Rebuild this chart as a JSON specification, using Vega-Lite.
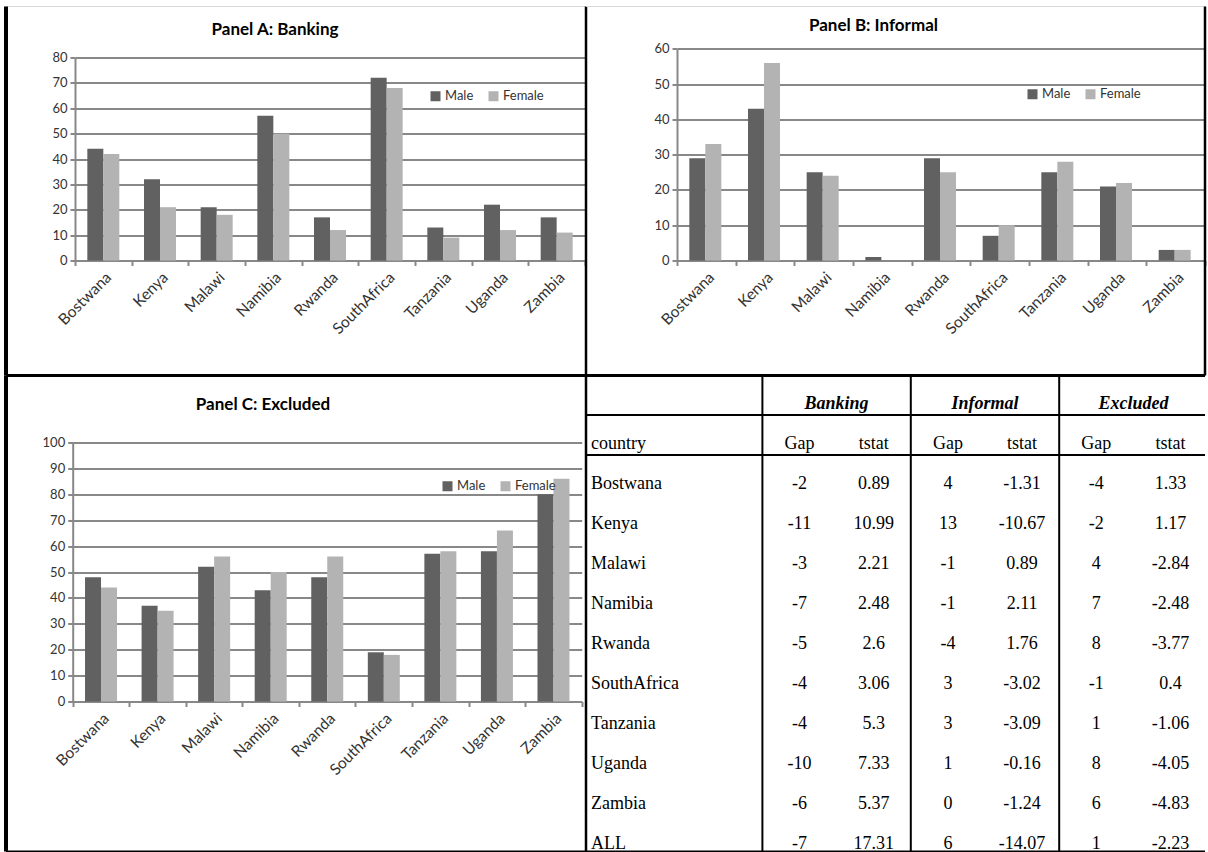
{
  "$schema": "https://vega.github.io/schema/vega-lite/v6.json",
  "autosize": {"type": "pad"},
  "padding": {"left": 4, "top": 4.5, "right": 0, "bottom": 0},
  "background": "white",
  "spacing": 0,
  "bounds": "flush",
  "columns": 2,
  "resolve": {"scale": {"color": "independent"}, "legend": {"color": "independent"}},
  "datasets": {
    "banking": [
      {"country": "Bostwana", "Male": 44, "Female": 42},
      {"country": "Kenya", "Male": 32, "Female": 21},
      {"country": "Malawi", "Male": 21, "Female": 18},
      {"country": "Namibia", "Male": 57, "Female": 50},
      {"country": "Rwanda", "Male": 17, "Female": 12},
      {"country": "SouthAfrica", "Male": 72, "Female": 68},
      {"country": "Tanzania", "Male": 13, "Female": 9},
      {"country": "Uganda", "Male": 22, "Female": 12},
      {"country": "Zambia", "Male": 17, "Female": 11}
    ],
    "informal": [
      {"country": "Bostwana", "Male": 29, "Female": 33},
      {"country": "Kenya", "Male": 43, "Female": 56},
      {"country": "Malawi", "Male": 25, "Female": 24},
      {"country": "Namibia", "Male": 1, "Female": 0},
      {"country": "Rwanda", "Male": 29, "Female": 25},
      {"country": "SouthAfrica", "Male": 7, "Female": 10},
      {"country": "Tanzania", "Male": 25, "Female": 28},
      {"country": "Uganda", "Male": 21, "Female": 22},
      {"country": "Zambia", "Male": 3, "Female": 3}
    ],
    "excluded": [
      {"country": "Bostwana", "Male": 48, "Female": 44},
      {"country": "Kenya", "Male": 37, "Female": 35},
      {"country": "Malawi", "Male": 52, "Female": 56},
      {"country": "Namibia", "Male": 43, "Female": 50},
      {"country": "Rwanda", "Male": 48, "Female": 56},
      {"country": "SouthAfrica", "Male": 19, "Female": 18},
      {"country": "Tanzania", "Male": 57, "Female": 58},
      {"country": "Uganda", "Male": 58, "Female": 66},
      {"country": "Zambia", "Male": 80, "Female": 86}
    ],
    "table": [
      {"country": "country", "bg": "Gap", "bt": "tstat", "ig": "Gap", "it": "tstat", "eg": "Gap", "et": "tstat"},
      {"country": "Bostwana", "bg": "-2", "bt": "0.89", "ig": "4", "it": "-1.31", "eg": "-4", "et": "1.33"},
      {"country": "Kenya", "bg": "-11", "bt": "10.99", "ig": "13", "it": "-10.67", "eg": "-2", "et": "1.17"},
      {"country": "Malawi", "bg": "-3", "bt": "2.21", "ig": "-1", "it": "0.89", "eg": "4", "et": "-2.84"},
      {"country": "Namibia", "bg": "-7", "bt": "2.48", "ig": "-1", "it": "2.11", "eg": "7", "et": "-2.48"},
      {"country": "Rwanda", "bg": "-5", "bt": "2.6", "ig": "-4", "it": "1.76", "eg": "8", "et": "-3.77"},
      {"country": "SouthAfrica", "bg": "-4", "bt": "3.06", "ig": "3", "it": "-3.02", "eg": "-1", "et": "0.4"},
      {"country": "Tanzania", "bg": "-4", "bt": "5.3", "ig": "3", "it": "-3.09", "eg": "1", "et": "-1.06"},
      {"country": "Uganda", "bg": "-10", "bt": "7.33", "ig": "1", "it": "-0.16", "eg": "8", "et": "-4.05"},
      {"country": "Zambia", "bg": "-6", "bt": "5.37", "ig": "0", "it": "-1.24", "eg": "6", "et": "-4.83"},
      {"country": "ALL", "bg": "-7", "bt": "17.31", "ig": "6", "it": "-14.07", "eg": "1", "et": "-2.23"}
    ]
  },
  "concat": [
    {
      "width": 580, "height": 369,
      "title": {"text": "Panel A: Banking", "frame": "group", "anchor": "middle", "offset": -42, "baseline": "middle", "dx": -21},
      "layer": [
        {
          "data": {"name": "banking"},
          "transform": [{"fold": ["Male", "Female"], "as": ["sex", "pct"]}],
          "mark": {"type": "bar"},
          "encoding": {
            "x": {"field": "country", "type": "nominal", "sort": null,
              "scale": {"range": [69, 579], "paddingInner": 0, "paddingOuter": 0},
              "axis": {"orient": "bottom", "offset": -115, "title": null, "labelAngle": -45, "tickBand": "extent", "grid": false}},
            "xOffset": {"field": "sex", "type": "nominal", "sort": ["Male", "Female"], "scale": {"paddingInner": 0, "paddingOuter": 0.771}},
            "y": {"field": "pct", "type": "quantitative",
              "scale": {"domain": [0, 80], "range": [254, 51], "nice": false},
              "axis": {"orient": "left", "offset": -69, "title": null, "values": [0, 10, 20, 30, 40, 50, 60, 70, 80], "grid": true}},
            "color": {"field": "sex", "type": "nominal",
              "scale": {"domain": ["Male", "Female"], "range": ["#616161", "#b3b3b3"]},
              "legend": {"orient": "none", "legendX": 423, "legendY": 83, "direction": "horizontal", "title": null}}
          }
        },
        {"data": {"values": [{}]}, "mark": {"type": "rule", "color": "#d9d9d9", "strokeWidth": 1},
         "encoding": {"x": {"value": 0}, "x2": {"value": "width"}, "y": {"value": 0}}},
        {"data": {"values": [{}]}, "mark": {"type": "rule", "color": "black", "strokeWidth": 4},
         "encoding": {"x": {"value": 0}, "y": {"value": 0}, "y2": {"value": "height"}}},
        {"data": {"values": [{}]}, "mark": {"type": "rule", "color": "black", "strokeWidth": 2.5},
         "encoding": {"x": {"value": "width"}, "y": {"value": 0}, "y2": {"value": "height"}}},
        {"data": {"values": [{}]}, "mark": {"type": "rule", "color": "black", "strokeWidth": 3},
         "encoding": {"x": {"value": 0}, "x2": {"value": "width"}, "y": {"value": "height"}}}
      ]
    },
    {
      "width": 619, "height": 369,
      "title": {"text": "Panel B: Informal", "frame": "group", "anchor": "middle", "offset": -38, "baseline": "middle", "dx": -22},
      "layer": [
        {
          "data": {"name": "informal"},
          "transform": [{"fold": ["Male", "Female"], "as": ["sex", "pct"]}],
          "mark": {"type": "bar"},
          "encoding": {
            "x": {"field": "country", "type": "nominal", "sort": null,
              "scale": {"range": [91, 619], "paddingInner": 0, "paddingOuter": 0},
              "axis": {"orient": "bottom", "offset": -115, "title": null, "labelAngle": -45, "tickBand": "extent", "grid": false}},
            "xOffset": {"field": "sex", "type": "nominal", "sort": ["Male", "Female"], "scale": {"paddingInner": 0, "paddingOuter": 0.833}},
            "y": {"field": "pct", "type": "quantitative",
              "scale": {"domain": [0, 60], "range": [254, 42.3], "nice": false},
              "axis": {"orient": "left", "offset": -91, "title": null, "values": [0, 10, 20, 30, 40, 50, 60], "grid": true}},
            "color": {"field": "sex", "type": "nominal",
              "scale": {"domain": ["Male", "Female"], "range": ["#616161", "#b3b3b3"]},
              "legend": {"orient": "none", "legendX": 440, "legendY": 81, "direction": "horizontal", "title": null}}
          }
        },
        {"data": {"values": [{}]}, "mark": {"type": "rule", "color": "#d9d9d9", "strokeWidth": 1},
         "encoding": {"x": {"value": 0}, "x2": {"value": "width"}, "y": {"value": 0}}},
        {"data": {"values": [{}]}, "mark": {"type": "rule", "color": "black", "strokeWidth": 2.5},
         "encoding": {"x": {"value": "width"}, "y": {"value": 0}, "y2": {"value": "height"}}},
        {"data": {"values": [{}]}, "mark": {"type": "rule", "color": "black", "strokeWidth": 3},
         "encoding": {"x": {"value": 0}, "x2": {"value": "width"}, "y": {"value": "height"}}}
      ]
    },
    {
      "width": 580, "height": 476,
      "title": {"text": "Panel C: Excluded", "frame": "group", "anchor": "middle", "offset": -48, "baseline": "middle", "dx": -33},
      "layer": [
        {
          "data": {"name": "excluded"},
          "transform": [{"fold": ["Male", "Female"], "as": ["sex", "pct"]}],
          "mark": {"type": "bar"},
          "encoding": {
            "x": {"field": "country", "type": "nominal", "sort": null,
              "scale": {"range": [66.7, 575.7], "paddingInner": 0, "paddingOuter": 0},
              "axis": {"orient": "bottom", "offset": -150, "title": null, "labelAngle": -45, "tickBand": "extent", "grid": false}},
            "xOffset": {"field": "sex", "type": "nominal", "sort": ["Male", "Female"], "scale": {"paddingInner": 0, "paddingOuter": 0.767}},
            "y": {"field": "pct", "type": "quantitative",
              "scale": {"domain": [0, 100], "range": [326, 67], "nice": false},
              "axis": {"orient": "left", "offset": -66.7, "title": null, "values": [0, 10, 20, 30, 40, 50, 60, 70, 80, 90, 100], "grid": true}},
            "color": {"field": "sex", "type": "nominal",
              "scale": {"domain": ["Male", "Female"], "range": ["#616161", "#b3b3b3"]},
              "legend": {"orient": "none", "legendX": 435, "legendY": 104, "direction": "horizontal", "title": null}}
          }
        },
        {"data": {"values": [{}]}, "mark": {"type": "rule", "color": "black", "strokeWidth": 4},
         "encoding": {"x": {"value": 0}, "y": {"value": 0}, "y2": {"value": "height"}}},
        {"data": {"values": [{}]}, "mark": {"type": "rule", "color": "black", "strokeWidth": 2},
         "encoding": {"x": {"value": 0}, "x2": {"value": "width"}, "y": {"value": "height"}}}
      ]
    },
    {
      "width": 619, "height": 476,
      "layer": [
        {
          "data": {"name": "table"},
          "transform": [{"fold": ["bg", "bt", "ig", "it", "eg", "et"], "as": ["col", "val"]}],
          "mark": {"type": "text", "font": "Liberation Serif", "fontSize": 18, "color": "black"},
          "encoding": {
            "x": {"field": "col", "type": "nominal",
              "scale": {"domain": ["bg", "bt", "ig", "it", "eg", "et"], "range": [176.4, 621.6], "paddingInner": 0, "paddingOuter": 0},
              "axis": null},
            "y": {"field": "country", "type": "nominal",
              "scale": {"domain": ["grp", "country", "Bostwana", "Kenya", "Malawi", "Namibia", "Rwanda", "SouthAfrica", "Tanzania", "Uganda", "Zambia", "ALL"], "range": [8, 488], "paddingInner": 0, "paddingOuter": 0},
              "axis": null},
            "text": {"field": "val", "type": "nominal"}
          }
        },
        {
          "data": {"name": "table"},
          "mark": {"type": "text", "font": "Liberation Serif", "fontSize": 18, "color": "black", "align": "left", "dx": 5},
          "encoding": {
            "x": {"value": 0},
            "y": {"field": "country", "type": "nominal", "axis": null},
            "text": {"field": "country", "type": "nominal"}
          }
        },
        {
          "data": {"values": [{"group": "Banking", "col": "bt"}, {"group": "Informal", "col": "it"}, {"group": "Excluded", "col": "et"}]},
          "mark": {"type": "text", "font": "Liberation Serif", "fontSize": 18, "fontStyle": "italic", "fontWeight": "bold", "color": "black"},
          "encoding": {
            "x": {"field": "col", "type": "nominal", "bandPosition": 0, "axis": null},
            "y": {"datum": "grp", "type": "nominal", "axis": null},
            "text": {"field": "group", "type": "nominal"}
          }
        },
        {
          "data": {"values": [{"row": "grp"}, {"row": "country"}]},
          "mark": {"type": "rule", "color": "black", "strokeWidth": 2},
          "encoding": {
            "y": {"field": "row", "type": "nominal", "bandPosition": 0.79, "axis": null},
            "x": {"value": 0}, "x2": {"value": "width"}
          }
        },
        {
          "data": {"values": [{"col": "bg"}, {"col": "ig"}, {"col": "eg"}]},
          "mark": {"type": "rule", "color": "black", "strokeWidth": 2},
          "encoding": {
            "x": {"field": "col", "type": "nominal", "bandPosition": 0, "axis": null},
            "y": {"value": 0}, "y2": {"value": "height"}
          }
        },
        {"data": {"values": [{}]}, "mark": {"type": "rule", "color": "black", "strokeWidth": 2.5},
         "encoding": {"x": {"value": 0}, "y": {"value": 0}, "y2": {"value": "height"}}},
        {"data": {"values": [{}]}, "mark": {"type": "rule", "color": "black", "strokeWidth": 3},
         "encoding": {"x": {"value": 0}, "x2": {"value": "width"}, "y": {"value": 0}}},
        {"data": {"values": [{}]}, "mark": {"type": "rule", "color": "black", "strokeWidth": 2},
         "encoding": {"x": {"value": 0}, "x2": {"value": "width"}, "y": {"value": "height"}}}
      ]
    }
  ],
  "config": {
    "view": {"stroke": null},
    "font": "Lato",
    "title": {"font": "Lato", "fontSize": 17, "fontWeight": "bold", "color": "black"},
    "axis": {
      "domainColor": "#888888", "domainWidth": 2,
      "tickColor": "#888888", "tickWidth": 2, "tickSize": 5,
      "gridColor": "#888888", "gridWidth": 2,
      "labelFont": "Lato", "labelFontSize": 13, "labelColor": "#333333", "labelPadding": 3
    },
    "axisX": {"labelFontSize": 15.5, "labelPadding": 4},
    "legend": {
      "labelFont": "Lato", "labelFontSize": 13, "labelColor": "#333333",
      "symbolType": "square", "symbolSize": 100, "symbolStrokeWidth": 0,
      "columnPadding": 13, "labelOffset": 3
    }
  }
}
